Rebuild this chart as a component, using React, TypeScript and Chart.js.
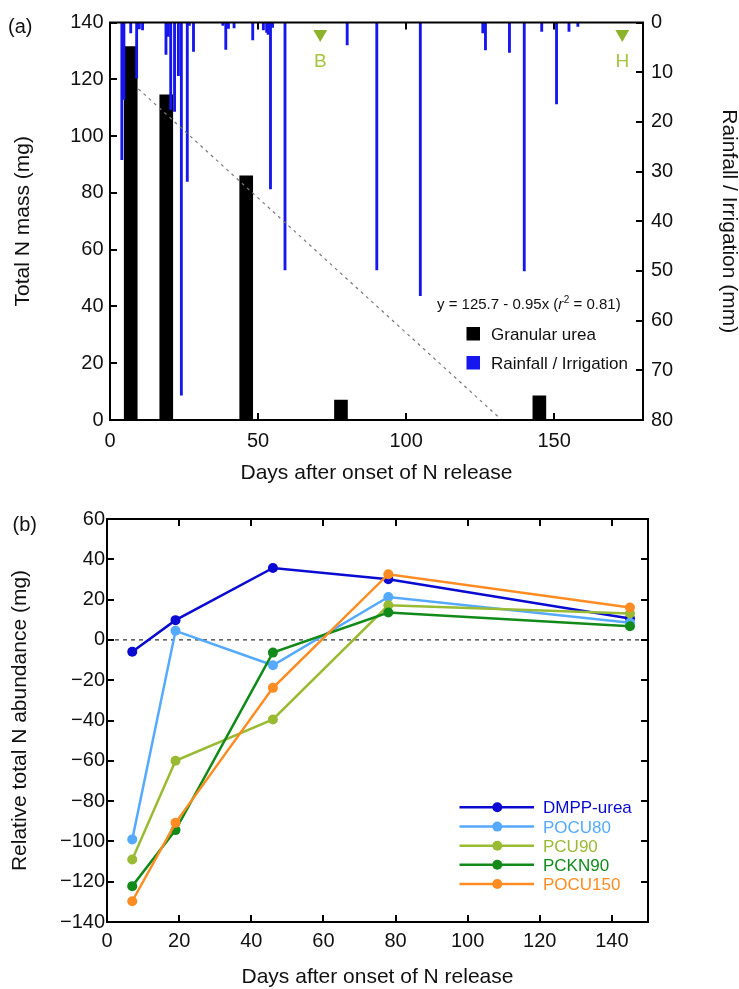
import React, { useEffect, useRef } from 'react';
import { Chart, registerables } from 'chart.js';

Chart.register(...registerables);

const FONT = "'Liberation Sans', Arial, Helvetica, sans-serif";
const INK = '#111111';

// ---------- Panel (a) data ----------
const ureaDays = [7, 19, 46, 78, 145];
const ureaMass = [131.5, 114.5, 86, 7, 8.5];

const rainDays = [
  4.0, 4.7, 7.0, 9.0, 9.9, 11.0, 18.9, 19.7, 20.5, 21.8, 23.1, 24.1, 26.1, 26.8, 28.2,
  38.1, 39.1, 40.0, 41.9, 48.2, 51.8, 52.9, 53.4, 54.2, 54.9, 59.1, 80.1, 90.1, 104.8,
  125.9, 126.8, 134.9, 139.9, 145.8, 150.8, 155.0, 158.0,
];
const rainMm = [
  27.6, 15.5, 2.1, 11.2, 1.3, 1.5, 6.4, 2.8, 17.5, 17.9, 10.7, 75.0, 32.0, 0.6, 5.8,
  0.6, 5.4, 1.2, 1.1, 3.5, 1.5, 2.0, 2.4, 33.5, 1.0, 49.8, 4.5, 49.8, 55.0,
  2.1, 5.5, 6.0, 50.0, 1.8, 16.4, 1.8, 0.8,
];

const fitDays = [9.6, 132.3];
const fitMass = [116.6, 0];

const eventDays = [71, 173];
const eventLevel = [2.3, 2.3];
const eventLabels = ['B', 'H'];

const legendA = ['Granular urea', 'Rainfall / Irrigation'];
const equationParts = ['y = 125.7 - 0.95x (', 'r', '2', ' = 0.81)'];

// ---------- Panel (b) data ----------
const sampleDays = [7, 19, 46, 78, 145];
const seriesNames = ['DMPP-urea', 'POCU80', 'PCU90', 'PCKN90', 'POCU150'];
const dmppUrea = [-5.9, 9.8, 35.7, 30.1, 10.6];
const pocu80 = [-99, 4.5, -12.6, 21.3, 8.5];
const pcu90 = [-109, -60, -39.5, 17.2, 13.1];
const pckn90 = [-122.2, -94.4, -6.3, 13.6, 6.8];
const pocu150 = [-129.7, -90.8, -23.8, 32.6, 16.1];
const seriesValues = [dmppUrea, pocu80, pcu90, pckn90, pocu150];
const seriesColors = ['#0a0ad2', '#55aaff', '#99bb33', '#118a1a', '#ff8c22'];

const zeroLineX = [0, 150];
const zeroLineY = [0, 0];

const RAIN = '#1616ee';
const EVENT = '#8db32b';
const EVENT_TEXT = '#a3c63c';

const minusFmt = (v: any) => String(v).replace('-', '\u2212');

function drawInwardTicks(chart: any, specs: { id: string; sides: string[]; len: number }[]) {
  const ctx = chart.ctx;
  const a = chart.chartArea;
  ctx.save();
  ctx.strokeStyle = '#000';
  ctx.lineWidth = 2;
  for (const s of specs) {
    const sc = chart.scales[s.id];
    for (const t of sc.ticks) {
      const p = Math.round(sc.getPixelForValue(t.value));
      for (const side of s.sides) {
        ctx.beginPath();
        if (side === 'bottom') { ctx.moveTo(p, a.bottom); ctx.lineTo(p, a.bottom - s.len); }
        if (side === 'top') { ctx.moveTo(p, a.top); ctx.lineTo(p, a.top + s.len); }
        if (side === 'left') { ctx.moveTo(a.left, p); ctx.lineTo(a.left + s.len, p); }
        if (side === 'right') { ctx.moveTo(a.right, p); ctx.lineTo(a.right - s.len, p); }
        ctx.stroke();
      }
    }
  }
  ctx.lineWidth = 2;
  ctx.strokeRect(a.left, a.top, a.right - a.left, a.bottom - a.top);
  ctx.restore();
}

const decorA = {
  id: 'decorA',
  afterDraw(chart: any) {
    drawInwardTicks(chart, [
      { id: 'x', sides: ['bottom', 'top'], len: 7 },
      { id: 'y', sides: ['left'], len: 7 },
      { id: 'y2', sides: ['right'], len: 7 },
    ]);
    const ctx = chart.ctx;
    const xs = chart.scales.x;
    ctx.save();
    // event labels
    ctx.fillStyle = EVENT_TEXT;
    ctx.font = `19px ${FONT}`;
    ctx.textAlign = 'center';
    ctx.textBaseline = 'alphabetic';
    eventDays.forEach((d, i) => {
      ctx.fillText(eventLabels[i], xs.getPixelForValue(d), 66.5);
    });
    // equation
    ctx.textAlign = 'left';
    ctx.fillStyle = INK;
    let x = 437;
    const yb = 308.5;
    ctx.font = `15px ${FONT}`;
    ctx.fillText(equationParts[0], x, yb);
    x += ctx.measureText(equationParts[0]).width;
    ctx.font = `italic 15px ${FONT}`;
    ctx.fillText(equationParts[1], x, yb);
    x += ctx.measureText(equationParts[1]).width + 0.5;
    ctx.font = `10px ${FONT}`;
    ctx.fillText(equationParts[2], x, yb - 6);
    x += ctx.measureText(equationParts[2]).width;
    ctx.font = `15px ${FONT}`;
    ctx.fillText(equationParts[3], x, yb);
    // legend
    const colors = ['#000000', RAIN];
    const baselines = [339.5, 368.5];
    ctx.font = `17px ${FONT}`;
    legendA.forEach((lab, i) => {
      ctx.fillStyle = colors[i];
      ctx.fillRect(466.5, baselines[i] - 12.5, 13.5, 13.5);
      ctx.fillStyle = INK;
      ctx.fillText(lab, 491, baselines[i]);
    });
    // panel letter
    ctx.font = `20px ${FONT}`;
    ctx.fillStyle = INK;
    ctx.fillText('(a)', 8, 32.5);
    ctx.restore();
  },
};

const decorB = {
  id: 'decorB',
  afterDraw(chart: any) {
    drawInwardTicks(chart, [
      { id: 'x', sides: ['bottom', 'top'], len: 7 },
      { id: 'y', sides: ['left', 'right'], len: 7 },
    ]);
    const ctx = chart.ctx;
    ctx.save();
    const rows = [317.3, 336.6, 355.7, 374.8, 394];
    ctx.font = `17px ${FONT}`;
    ctx.textAlign = 'left';
    ctx.textBaseline = 'alphabetic';
    seriesNames.forEach((name, i) => {
      const c = seriesColors[i];
      ctx.strokeStyle = c;
      ctx.lineWidth = 2.5;
      ctx.beginPath();
      ctx.moveTo(459.5, rows[i]);
      ctx.lineTo(534, rows[i]);
      ctx.stroke();
      ctx.fillStyle = c;
      ctx.beginPath();
      ctx.arc(497.3, rows[i], 5, 0, Math.PI * 2);
      ctx.fill();
      ctx.fillText(name, 543, rows[i] + 6);
    });
    ctx.font = `20px ${FONT}`;
    ctx.fillStyle = INK;
    ctx.fillText('(b)', 12.5, 41);
    ctx.restore();
  },
};

const tickFont = { family: FONT, size: 20, lineHeight: 1.2 };
const titleFont = { family: FONT, size: 21, lineHeight: 1 };

function configA(): any {
  return {
    type: 'bar',
    data: {
      datasets: [
        {
          type: 'bar',
          label: legendA[1],
          data: rainDays.map((d, i) => ({ x: d, y: rainMm[i] })),
          xAxisID: 'x',
          yAxisID: 'y2',
          backgroundColor: RAIN,
          borderWidth: 0,
          barThickness: 2.2,
          grouped: false,
          order: 1,
        },
        {
          type: 'bar',
          label: legendA[0],
          data: ureaDays.map((d, i) => ({ x: d, y: ureaMass[i] })),
          xAxisID: 'x',
          yAxisID: 'y',
          backgroundColor: '#000000',
          borderWidth: 0,
          barThickness: 13,
          grouped: false,
          order: 2,
        },
        {
          type: 'line',
          label: 'fit',
          data: fitDays.map((d, i) => ({ x: d, y: fitMass[i] })),
          xAxisID: 'x',
          yAxisID: 'y',
          borderColor: '#777777',
          borderDash: [3, 4],
          borderWidth: 1.2,
          pointRadius: 0,
          fill: false,
          order: 0,
        },
        {
          type: 'line',
          label: 'events',
          data: eventDays.map((d, i) => ({ x: d, y: eventLevel[i] })),
          xAxisID: 'x',
          yAxisID: 'y2',
          showLine: false,
          pointStyle: 'triangle',
          pointRotation: 180,
          pointRadius: 8,
          pointBackgroundColor: EVENT,
          pointBorderColor: EVENT,
          pointBorderWidth: 0,
          order: 0,
        },
      ],
    },
    options: {
      responsive: false,
      animation: false,
      devicePixelRatio: 1,
      layout: { padding: { top: 22.5, left: 0, right: 0, bottom: 0 } },
      plugins: { legend: { display: false }, tooltip: { enabled: false } },
      scales: {
        x: {
          type: 'linear',
          position: 'bottom',
          offset: false,
          min: 0,
          max: 180,
          ticks: { stepSize: 50, includeBounds: false, padding: 9, font: tickFont, color: INK },
          grid: { display: false, drawTicks: false, offset: false },
          border: { display: false },
          title: { display: true, text: 'Days after onset of N release', font: titleFont, color: INK, padding: { top: 0, bottom: 6 } },
          afterFit: (s: any) => { s.height = 70; },
        },
        y: {
          type: 'linear',
          position: 'left',
          min: 0,
          max: 140,
          ticks: { stepSize: 20, padding: 6.5, font: tickFont, color: INK },
          grid: { display: false, drawTicks: false },
          border: { display: false },
          title: { display: true, text: 'Total N mass (mg)', font: titleFont, color: INK, padding: { top: 12.5, bottom: 0 } },
          afterFit: (s: any) => { s.width = 110; },
        },
        y2: {
          type: 'linear',
          position: 'right',
          reverse: true,
          min: 0,
          max: 80,
          ticks: { stepSize: 10, padding: 8, font: tickFont, color: INK },
          grid: { display: false, drawTicks: false },
          border: { display: false },
          title: { display: true, text: 'Rainfall / Irrigation (mm)', font: titleFont, color: INK, padding: { top: 0, bottom: 0 } },
          afterFit: (s: any) => { s.width = 96; },
        },
      },
    },
    plugins: [decorA],
  };
}

function configB(): any {
  const n = seriesNames.length;
  return {
    type: 'line',
    data: {
      datasets: [
        {
          label: 'zero',
          data: zeroLineX.map((d, i) => ({ x: d, y: zeroLineY[i] })),
          borderColor: '#000000',
          borderDash: [4, 4],
          borderWidth: 1,
          pointRadius: 0,
          fill: false,
          order: 10,
        },
        ...seriesNames.map((name, i) => ({
          label: name,
          data: sampleDays.map((d, j) => ({ x: d, y: seriesValues[i][j] })),
          borderColor: seriesColors[i],
          backgroundColor: seriesColors[i],
          pointBackgroundColor: seriesColors[i],
          pointBorderColor: seriesColors[i],
          pointBorderWidth: 0,
          pointRadius: 5,
          borderWidth: 2.5,
          fill: false,
          tension: 0,
          order: n - 1 - i,
        })),
      ],
    },
    options: {
      responsive: false,
      animation: false,
      devicePixelRatio: 1,
      layout: { padding: { top: 29, left: 0, right: 91, bottom: 0 } },
      plugins: { legend: { display: false }, tooltip: { enabled: false } },
      scales: {
        x: {
          type: 'linear',
          position: 'bottom',
          min: 0,
          max: 150,
          ticks: { stepSize: 20, includeBounds: false, padding: 7, font: tickFont, color: INK },
          grid: { display: false, drawTicks: false },
          border: { display: false },
          title: { display: true, text: 'Days after onset of N release', font: titleFont, color: INK, padding: { top: 0, bottom: 1.5 } },
          afterFit: (s: any) => { s.height = 67; },
        },
        y: {
          type: 'linear',
          position: 'left',
          min: -140,
          max: 60,
          ticks: { stepSize: 20, padding: 2, font: tickFont, color: INK, callback: minusFmt },
          grid: { display: false, drawTicks: false },
          border: { display: false },
          title: { display: true, text: 'Relative total N abundance (mg)', font: titleFont, color: INK, padding: { top: 10, bottom: 0 } },
          afterFit: (s: any) => { s.width = 107; },
        },
      },
    },
    plugins: [decorB],
  };
}

export default function App() {
  const topRef = useRef<HTMLCanvasElement>(null);
  const botRef = useRef<HTMLCanvasElement>(null);
  useEffect(() => {
    document.body.style.margin = '0';
    const c1 = new Chart(topRef.current as HTMLCanvasElement, configA());
    const c2 = new Chart(botRef.current as HTMLCanvasElement, configB());
    return () => {
      c1.destroy();
      c2.destroy();
    };
  }, []);
  return (
    <div style={{ position: 'absolute', left: 0, top: 0, width: 739, height: 989, background: '#ffffff' }}>
      <canvas ref={topRef} width={739} height={490} style={{ position: 'absolute', left: 0, top: 0, width: 739, height: 490 }} />
      <canvas ref={botRef} width={739} height={499} style={{ position: 'absolute', left: 0, top: 490, width: 739, height: 499 }} />
    </div>
  );
}
